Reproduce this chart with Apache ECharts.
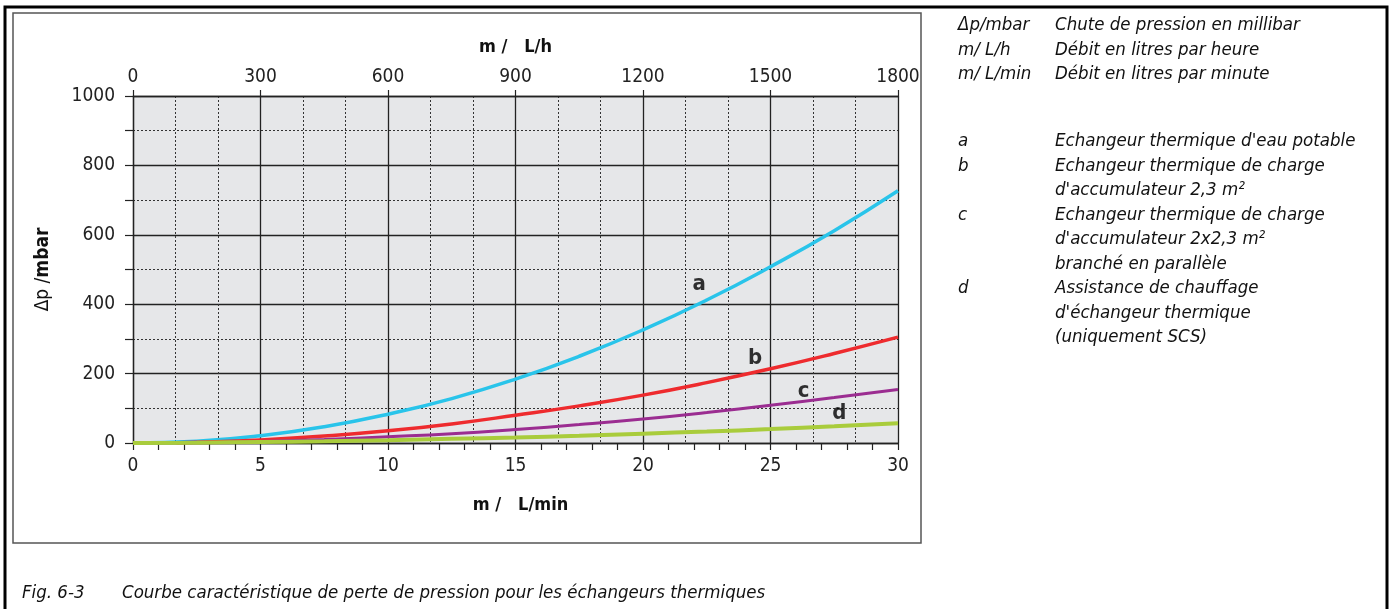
<!DOCTYPE html>
<html>
<head>
<meta charset="utf-8">
<script src="https://cdn.jsdelivr.net/npm/echarts@6/dist/echarts.min.js"></script>
<style>
html,body{margin:0;padding:0;background:#fff;}
#chart{width:1391px;height:609px;}
</style>
</head>
<body>
<div id="chart"></div>
<script>
// ---- data ----
// flow in L/min
const flowA = [0, 2.5, 5, 7.5, 10, 12.5, 15, 17.5, 20, 22.5, 25, 27.5, 30];
const dpA   = [0, 5, 21, 47, 83, 128, 184, 250, 326, 412, 508, 612, 727];
const flowB = [1.7, 2.5, 5, 7.5, 10, 12.5, 15, 17.5, 20, 22.5, 25, 27.5, 30];
const dpB   = [1, 2, 9, 20, 35, 55, 80, 107, 138, 174, 214, 258, 305];
const flowC = [1.7, 2.5, 5, 7.5, 10, 12.5, 15, 17.5, 20, 22.5, 25, 27.5, 30];
const dpC   = [1, 1, 4, 10, 18, 27, 39, 53, 69, 88, 109, 131, 154];
const flowD = [0, 2.5, 5, 7.5, 10, 12.5, 15, 17.5, 20, 22.5, 25, 27.5, 30];
const dpD   = [0, 1, 3, 5, 8, 12, 16, 21, 27, 33, 40, 48, 57];

const curveNames = ['a', 'b', 'c', 'd'];
const curveColors = ['#29c4ea', '#ee2b2e', '#9b2d91', '#a9cc3c'];
// label anchor positions in data units [L/min, mbar]
const labelFlow = [22.2, 24.4, 26.3, 27.7];
const labelDp   = [458, 243, 150, 87];

const bottomTicks = { min: 0, max: 30, minor: 1, major: 5 };
const topTicks = { min: 0, max: 1800, minor: 100, major: 300 };
const yTicks = { min: 0, max: 1000, minor: 100, major: 200 };

const legendKeys = ['\u0394p/mbar', 'm/ L/h', 'm/ L/min', '', 'a', 'b', '', 'c', '', '', 'd', '', ''];
const legendDescs = [
  'Chute de pression en millibar',
  'D\u00e9bit en litres par heure',
  'D\u00e9bit en litres par minute',
  '',
  "Echangeur thermique d'eau potable",
  'Echangeur thermique de charge',
  "d'accumulateur 2,3 m\u00b2",
  'Echangeur thermique de charge',
  "d'accumulateur 2x2,3 m\u00b2",
  'branch\u00e9 en parall\u00e8le',
  'Assistance de chauffage',
  "d'\u00e9changeur thermique",
  '(uniquement SCS)'
];
const captionNum = 'Fig. 6-3';
const captionText = 'Courbe caract\u00e9ristique de perte de pression pour les \u00e9changeurs thermiques';

// ---- chart ----
const FONT = "'Liberation Sans Narrow','DejaVu Sans Condensed','Arial Narrow',sans-serif";
const chart = echarts.init(document.getElementById('chart'), null, { renderer: 'canvas' });

function pairs(xs, ys) { return xs.map((x, i) => [x, ys[i]]); }
const seriesData = [pairs(flowA, dpA), pairs(flowB, dpB), pairs(flowC, dpC), pairs(flowD, dpD)];
const widths = [3.5, 3.5, 3, 4];

const series = seriesData.map((d, i) => ({
  type: 'line', name: curveNames[i], data: d, smooth: true, showSymbol: false,
  xAxisIndex: 0, yAxisIndex: 0, z: 5,
  lineStyle: { color: curveColors[i], width: widths[i] }, silent: true
}));
series.push({
  type: 'scatter', xAxisIndex: 0, yAxisIndex: 0, symbolSize: 1, z: 6, silent: true,
  itemStyle: { color: 'rgba(0,0,0,0)' },
  data: labelFlow.map((x, i) => ({ value: [x, labelDp[i]], name: curveNames[i] })),
  label: { show: true, position: 'inside', formatter: p => p.name,
           fontFamily: FONT, fontWeight: 'bold', fontSize: 22, color: '#000' }
});

const lblStyle = { fontFamily: FONT, fontSize: 19, color: '#222' };
const dashed = { color: '#333', width: 1, type: [2, 2] };
const solid = { color: '#222', width: 1.3 };

const legendGraphics = [];
const rowY0 = 27, rowStep = 24.5, bodyY0 = 143;
legendKeys.forEach((k, i) => {
  if (i === 3) return;
  const y = i < 3 ? rowY0 + i * rowStep : bodyY0 + (i - 4) * rowStep;
  if (k) legendGraphics.push({ type: 'text', left: 958, top: y - 11,
    style: { text: k, font: 'italic 18.5px ' + FONT, fill: '#111' } });
  legendGraphics.push({ type: 'text', left: 1055, top: y - 11,
    style: { text: legendDescs[i], font: 'italic 18.5px ' + FONT, fill: '#111' } });
});

chart.setOption({
  animation: false,
  backgroundColor: '#ffffff',
  grid: { left: 133, right: 493, top: 96, bottom: 166, show: true,
          backgroundColor: '#e6e7e9', borderWidth: 0 },
  xAxis: [
    { // bottom L/min
      type: 'value', position: 'bottom', min: bottomTicks.min, max: bottomTicks.max,
      interval: bottomTicks.minor,
      name: 'm /   L/min', nameLocation: 'middle', nameGap: 53,
      nameTextStyle: { fontFamily: FONT, fontWeight: 'bold', fontSize: 18, color: '#111', padding: [0, 0, 0, 10] },
      axisLine: { show: true, lineStyle: { color: '#222', width: 1.3 } },
      axisTick: { show: true, length: 7, inside: false, lineStyle: { color: '#222', width: 1.2 } },
      axisLabel: Object.assign({ margin: 14,
        formatter: v => (v % bottomTicks.major === 0 ? String(v) : '') }, lblStyle),
      splitLine: { show: false }
    },
    { // top minor grid (100 L/h)
      type: 'value', position: 'top', min: topTicks.min, max: topTicks.max, interval: topTicks.minor,
      axisLine: { show: false }, axisTick: { show: false }, axisLabel: { show: false },
      splitLine: { show: true, lineStyle: dashed }
    },
    { // top L/h
      type: 'value', position: 'top', min: topTicks.min, max: topTicks.max, interval: topTicks.major,
      name: 'm /   L/h', nameLocation: 'middle', nameGap: 40,
      nameTextStyle: { fontFamily: FONT, fontWeight: 'bold', fontSize: 18, color: '#111' },
      axisLine: { show: true, lineStyle: { color: '#222', width: 1.3 } },
      axisTick: { show: true, length: 6, lineStyle: { color: '#222', width: 1.2 } },
      axisLabel: Object.assign({ margin: 9, formatter: v => String(v) }, lblStyle),
      splitLine: { show: true, lineStyle: solid }
    }
  ],
  yAxis: [
    {
      type: 'value', min: yTicks.min, max: yTicks.max, interval: yTicks.minor,
      name: '{r|\u0394p /}{b|mbar}', nameLocation: 'middle', nameGap: 80,
      nameTextStyle: { rich: {
        r: { fontFamily: FONT, fontSize: 19, color: '#111' },
        b: { fontFamily: FONT, fontSize: 19, fontWeight: 'bold', color: '#111' } } },
      axisLine: { show: true, lineStyle: { color: '#222', width: 1.3 } },
      axisTick: { show: true, length: 8, lineStyle: { color: '#222', width: 1.2 } },
      axisLabel: Object.assign({ margin: 18,
        formatter: v => (v % yTicks.major === 0 ? String(v) : '') }, lblStyle),
      splitLine: { show: true, lineStyle: dashed }
    },
    {
      type: 'value', min: yTicks.min, max: yTicks.max, interval: yTicks.major,
      position: 'left',
      axisLine: { show: false }, axisTick: { show: false }, axisLabel: { show: false },
      splitLine: { show: true, lineStyle: solid }
    }
  ],
  series: series,
  graphic: [
    // outer heavy frame
    { type: 'polyline', shape: { points: [[5, 620], [5, 7], [1387, 7], [1387, 620]] },
      style: { stroke: '#000', lineWidth: 3, fill: null }, silent: true },
    // inner chart box
    { type: 'rect', shape: { x: 13, y: 13, width: 908, height: 530 },
      style: { stroke: '#555', lineWidth: 1.5, fill: null }, silent: true, z: -1 },
    { type: 'text', left: 22, top: 584,
      style: { text: captionNum, font: 'italic 18.5px ' + FONT, fill: '#111' } },
    { type: 'text', left: 122, top: 584,
      style: { text: captionText, font: 'italic 18.5px ' + FONT, fill: '#111' } }
  ].concat(legendGraphics)
});
</script>
</body>
</html>
